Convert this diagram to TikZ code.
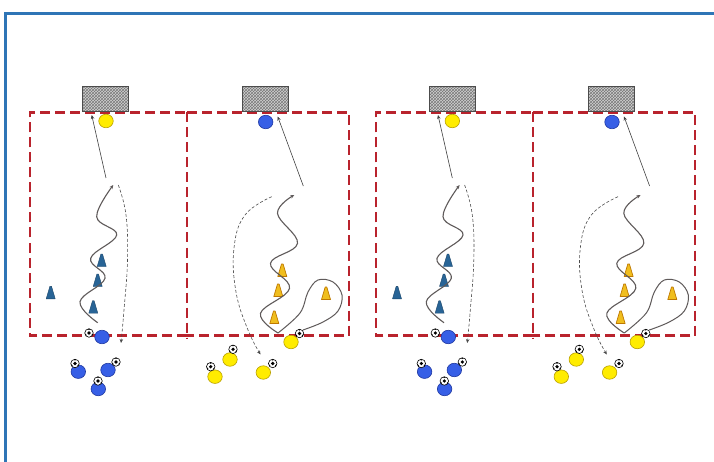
\documentclass[tikz,border=0pt]{standalone}
\usetikzlibrary{shapes.geometric,arrows.meta,patterns}
\definecolor{frameblue}{RGB}{46,117,182}
\definecolor{fieldred}{RGB}{185,35,45}
\definecolor{pblue}{RGB}{55,95,230}
\definecolor{pblueline}{RGB}{30,55,160}
\definecolor{pyellow}{RGB}{255,236,0}
\definecolor{pyellowline}{RGB}{185,160,0}
\definecolor{conebl}{RGB}{40,100,150}
\definecolor{coneor}{RGB}{240,190,30}
\definecolor{coneorline}{RGB}{190,120,0}
\definecolor{drib}{RGB}{95,90,90}
\tikzset{
  field/.style={draw=fieldred, line width=2.3pt, dash pattern=on 10pt off 5pt},
  goalbox/.style={draw=gray!60!black, line width=0.6pt, preaction={fill=gray!35},
    pattern=crosshatch, pattern color=gray!95!black, minimum width=46pt, minimum height=25pt,
    inner sep=0pt, anchor=south},
  player/.style={ellipse, minimum width=14.5pt, minimum height=13.5pt, inner sep=0pt, line width=0.6pt},
  bplayer/.style={player, fill=pblue, draw=pblueline},
  yplayer/.style={player, fill=pyellow, draw=pyellowline},
  ball/.style={circle, draw=black, fill=white, minimum size=8.5pt, inner sep=0pt, line width=0.6pt,
    path picture={
      \fill[black] (path picture bounding box.center) circle (1.8pt);
      \fill[black] ([shift={(90:4.3pt)}]path picture bounding box.center) circle (1.4pt);
      \fill[black] ([shift={(210:4.3pt)}]path picture bounding box.center) circle (1.4pt);
      \fill[black] ([shift={(330:4.3pt)}]path picture bounding box.center) circle (1.4pt);
    }},
  shot/.style={draw=black!75, line width=0.6pt, -{Stealth[length=4pt,width=3.5pt]}},
  dribble/.style={draw=drib, line width=1.1pt, -{Stealth[length=4pt,width=3.5pt]}},
  loopline/.style={draw=drib, line width=1.0pt},
  pass/.style={draw=black!70, line width=0.6pt, dash pattern=on 3pt off 2pt, -{Stealth[length=4pt,width=3.5pt]}},
  bcone/.pic={\filldraw[fill=conebl, draw=conebl!70!black, line width=0.4pt, line join=round]
     (-4.5,6.5) -- (-0.8,-6) -- (0.8,-6) -- (4.5,6.5) -- cycle;},
  ycone/.pic={\filldraw[fill=coneor, draw=coneorline, line width=0.7pt, line join=round]
     (-4.5,6.5) -- (-0.8,-6) -- (0.8,-6) -- (4.5,6.5) -- cycle;},
}
\newcommand\drillpair[2]{%
\begin{scope}[shift={(#1,0)}, name prefix=#2-]
  % fields
  \draw[field] (187,335.5) -- (30,335.5) -- (30,112.5) -- (187,112.5);
  \draw[field] (187,112.5) -- (349,112.5) -- (349,335.5) -- (187,335.5);
  \draw[field] (187,112.5) -- (187,339);
  % goals
  \node[goalbox] (goalA) at (105.7,112) {};
  \node[goalbox] (goalB) at (265.2,112) {};
  % keepers
  \node[yplayer] (keepA) at (106,121) {};
  \node[bplayer] (keepB) at (265.7,122) {};
  % ---------- field A ----------
  \pic at (101.7,260) {bcone};
  \pic at (97.7,280) {bcone};
  \pic at (93.3,306.7) {bcone};
  \pic at (50.7,292.3) {bcone};
  \coordinate (dA0) at (97.7,322.7);
  \coordinate (dA1) at (113.3,185);
  \draw[dribble] plot[smooth, tension=0.65] coordinates {(dA0) (80,301.7) (105,278.3) (90.7,258.3) (116.7,235) (96.7,216.7) (dA1)};
  \coordinate (sA) at (106,178);
  \coordinate (tA) at (91.7,115);
  \draw[shot] (sA) -- (tA);
  \coordinate (pA0) at (118.3,185);
  \coordinate (pA1) at (121,343);
  \draw[pass] plot[smooth, tension=0.7] coordinates {(pA0) (126,215) (127.5,260) (124,310) (pA1)};
  \node[ball] (ballA0) at (89,333) {};
  \node[bplayer] (plA0) at (102,337) {};
  \node[bplayer] (plA1) at (78.3,371.7) {};
  \node[ball] (ballA1) at (75,363.5) {};
  \node[bplayer] (plA2) at (108,370) {};
  \node[ball] (ballA2) at (116,362) {};
  \node[bplayer] (plA3) at (98.3,389) {};
  \node[ball] (ballA3) at (98,381) {};
  % ---------- field B ----------
  \pic at (282.3,270) {ycone};
  \pic at (278.3,290) {ycone};
  \pic at (274.3,317) {ycone};
  \pic at (326,293) {ycone};
  \coordinate (lB0) at (303,330);
  \coordinate (lB1) at (278,333);
  \draw[loopline] plot[smooth, tension=0.6] coordinates {(lB0) (323,322) (338,311) (342,295) (333,282) (318,280) (308,292) (300,313) (lB1)};
  \coordinate (dB1) at (294.3,195);
  \draw[dribble] plot[smooth, tension=0.65] coordinates {(lB1) (260.5,313.3) (289.5,288.3) (270.5,263.3) (297.5,243.3) (277.5,213.3) (dB1)};
  \coordinate (sB) at (303.3,186);
  \coordinate (tB) at (277.7,116.5);
  \draw[shot] (sB) -- (tB);
  \coordinate (pB0) at (271.7,196.7);
  \coordinate (pB1) at (260.5,354.5);
  \draw[pass] plot[smooth, tension=0.7] coordinates {(pB0) (245,215) (234,248) (236,292) (248,330) (pB1)};
  \node[yplayer] (plB0) at (291,342) {};
  \node[ball] (ballB0) at (299.5,333.5) {};
  \node[yplayer] (plB1) at (230,359.5) {};
  \node[ball] (ballB1) at (233,349.3) {};
  \node[yplayer] (plB2) at (215,376.7) {};
  \node[ball] (ballB2) at (210.7,366.7) {};
  \node[yplayer] (plB3) at (263.3,372.5) {};
  \node[ball] (ballB3) at (272.7,363.5) {};
\end{scope}}
\begin{document}
\begin{tikzpicture}[x=1pt, y=-1pt]
  \useasboundingbox (0,0) rectangle (714,462);
  \fill[white] (0,0) rectangle (714,462);
  \coordinate (fr0) at (5.5,462);
  \coordinate (fr1) at (5.5,14);
  \coordinate (fr2) at (714,14);
  \draw[frameblue, line width=3pt] (fr0) -- (fr1) -- (fr2);
  \drillpair{0}{L}
  \drillpair{346.3}{R}
\end{tikzpicture}
\end{document}
